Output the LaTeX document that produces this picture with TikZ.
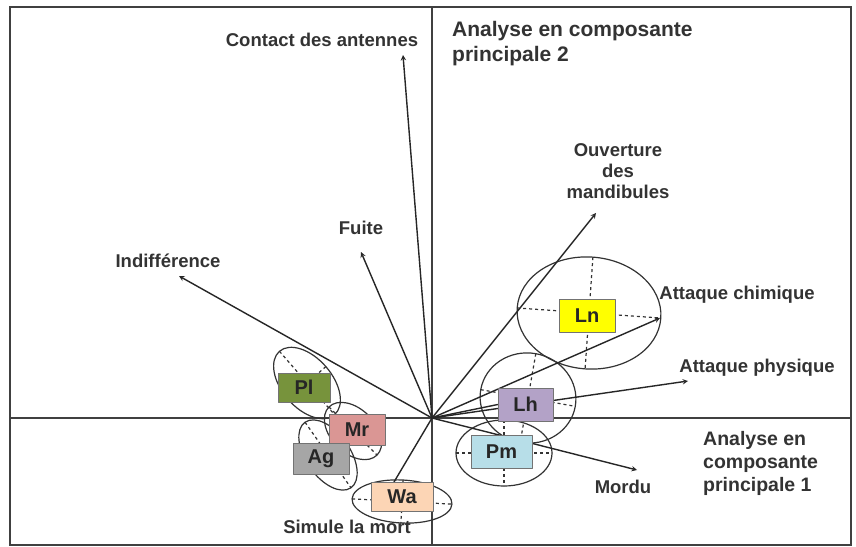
\documentclass[tikz,border=0pt]{standalone}
\usepackage{fontspec}
\setmainfont{Liberation Sans}
\usetikzlibrary{backgrounds}
\begin{document}
\begin{tikzpicture}[x=1pt,y=-1pt,line join=round,line cap=round,>=stealth,
  lab/.style={font=\bfseries\fontsize{18.5}{21}\selectfont,text=black!80,inner sep=0pt,align=center},
  titre/.style={font=\bfseries\fontsize{21}{25}\selectfont,text=black!80,inner sep=0pt,align=left},
  espece/.style={draw=black!55,fill=#1,inner sep=0pt,minimum height=33pt,font=\bfseries\fontsize{20}{22}\selectfont,text=black!85},
  fleche/.style={->,black!85,line width=1.4pt},
  nuage/.style={black!80,line width=1.2pt}]
\useasboundingbox (0,0) rectangle (856,546);
\definecolor{jaune}{HTML}{FFFF00}
\definecolor{mauve}{HTML}{B3A2C7}
\definecolor{bleu}{HTML}{B7DEE8}
\definecolor{vert}{HTML}{77933C}
\definecolor{rose}{HTML}{DA9694}
\definecolor{gris}{HTML}{A6A6A6}
\definecolor{peche}{HTML}{FCD5B5}
% especes
\node[espece=jaune,minimum width=56pt] (Ln) at (587,315.5) {Ln};
\node[espece=mauve,minimum width=55pt] (Lh) at (525.5,404.5) {Lh};
\node[espece=bleu,minimum width=61pt] (Pm) at (501.5,451.5) {Pm};
\node[espece=vert,minimum width=52pt,minimum height=29pt] (Pl) at (304,387.5) {Pl};
\node[espece=rose,minimum width=56pt,minimum height=31pt] (Mr) at (357,429.5) {Mr};
\node[espece=gris,minimum width=56pt,minimum height=31pt] (Ag) at (321,458.5) {Ag};
\node[espece=peche,minimum width=62pt,minimum height=29pt] (Wa) at (402,496.5) {Wa};
\coordinate (O) at (432,418);
\coordinate (antennes) at (403,55);
\coordinate (fuite) at (361,252);
\coordinate (indif) at (179,276);
\coordinate (ouvert) at (596,213);
\coordinate (chim) at (660,318);
\coordinate (phys) at (688,381);
\coordinate (mordu) at (637,470);
\coordinate (mort) at (394,482);
\begin{scope}[on background layer]
\fill[white] (0,0) rectangle (856,546);
\draw[black!75,line width=1.6pt] (10,7) rectangle (851,545);
\draw[black!75,line width=1.4pt] (432,7)--(432,545) (10,418)--(851,418);
%\draw[color=gray!50,dashed] (0,0) grid[step=50] (856,546);
\foreach \cx/\cy/\a/\b/\r in {589/313/72/56/-4, 528/398/48/45/-10, 504/453/48/33/0, 307/383/42/25/-49, 353/431/34/22/-45, 328/455/40/22/-55, 402/501.5/50/21.5/-3}
  {\begin{scope}[rotate around={\r:(\cx,\cy)}]
   \draw[nuage] (\cx,\cy) ellipse [x radius=\a, y radius=\b];
   \draw[nuage,dashed] (\cx-\a,\cy)--(\cx+\a,\cy) (\cx,\cy-\b)--(\cx,\cy+\b);
   \end{scope}}
\draw[fleche] (O)--(antennes);
\draw[fleche] (O)--(fuite);
\draw[fleche] (O)--(indif);
\draw[fleche] (O)--(ouvert);
\draw[fleche] (O)--(chim);
\draw[fleche] (O)--(phys);
\draw[fleche] (O)--(mordu);
\draw[black!85,line width=1.4pt] (O)--(mort) (O)--(Lh.west);
\end{scope}
% variables
\node[lab] (lantennes) at (322,40) {Contact des antennes};
\node[lab] (lfuite) at (361,228) {Fuite};
\node[lab] (lindif) at (168,261) {Indifférence};
\node[lab] (louvert) at (618,171) {Ouverture\\des\\mandibules};
\node[lab] (lchim) at (737,295) {Attaque chimique};
\node[lab] (lphys) at (757,368) {Attaque physique};
\node[lab] (lmordu) at (623,487) {Mordu};
\node[lab] (lmort) at (347,527) {Simule la mort};
\node[titre,anchor=north west] (cp2) at (452,21) {Analyse en composante\\principale 2};
\node[titre,anchor=north west,font=\bfseries\fontsize{19.5}{23}\selectfont] (cp1) at (703,431) {Analyse en\\composante\\principale 1};
\end{tikzpicture}
\end{document}
